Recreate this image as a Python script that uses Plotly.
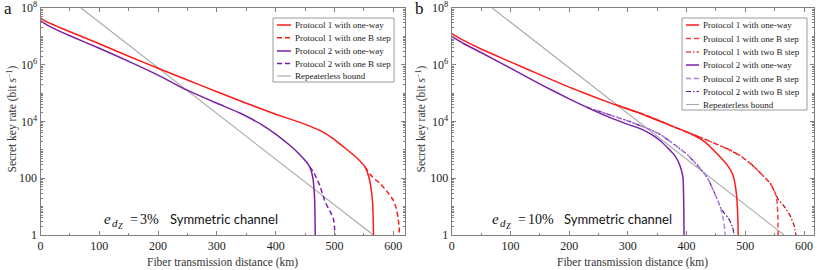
import plotly.graph_objects as go

# ---------------- data ----------------
# Panel a : e_dZ = 3 %
a_p1_oneway_x = [0, 10, 25, 50, 100, 150, 203, 250, 300, 339, 400, 440, 460, 480, 500, 520, 540, 552, 558, 562, 565, 566, 566.5]
a_p1_oneway_y = [4.4e7, 3.3e7, 2.4e7, 1.45e7, 5.5e6, 2.0e6, 7.1e5, 2.9e5, 1.12e5, 5.4e4, 1.8e4, 9.5e3, 6.6e3, 4.3e3, 2.3e3, 1.07e3, 480, 250, 120, 48, 12.6, 3.2, 0.8]
a_p1_oneB_x = [552, 560, 570, 577, 590, 600, 605, 608, 610, 610.5]
a_p1_oneB_y = [250, 141, 89, 68, 33, 17, 8.9, 4.3, 2.0, 0.8]
a_p2_oneway_x = [0, 10, 25, 50, 100, 150, 200, 242, 300, 339, 360, 380, 400, 424, 440, 452, 458, 463, 466, 467, 467.3]
a_p2_oneway_y = [3.5e7, 2.6e7, 1.8e7, 1.05e7, 3.8e6, 1.32e6, 4.3e5, 1.5e5, 4.4e4, 2.0e4, 1.2e4, 6.9e3, 3.6e3, 1.45e3, 720, 380, 250, 112, 25, 4.0, 0.8]
a_p2_oneB_x = [458, 465, 475, 484, 492, 498, 500, 501]
a_p2_oneB_y = [250, 158, 56, 15, 7.1, 4.0, 2.0, 0.8]

# Panel b : e_dZ = 10 %
b_p1_oneway_x = [0, 20, 50, 100, 150, 200, 266, 320, 370, 408, 430, 454, 470, 479, 484, 486, 487.5, 488]
b_p1_oneway_y = [1.26e7, 7.2e6, 3.6e6, 1.26e6, 4.5e5, 1.62e5, 4.8e4, 2.0e4, 7.6e3, 3.6e3, 2.0e3, 660, 280, 129, 40, 15, 3.2, 0.8]
b_p1_oneB_x = [280, 320, 350, 380, 414, 440, 470, 491, 510, 525, 542, 551, 554, 555.5, 556]
b_p1_oneB_y = [3.8e4, 2.0e4, 1.15e4, 6.3e3, 3.3e3, 2.0e3, 1.07e3, 630, 316, 158, 68, 30, 16, 4.0, 0.8]
b_p1_twoB_x = [280, 320, 350, 380, 414, 440, 470, 491, 510, 525, 542, 551, 556, 565, 576, 583, 587]
b_p1_twoB_y = [3.8e4, 2.0e4, 1.15e4, 6.3e3, 3.3e3, 2.0e3, 1.07e3, 630, 316, 158, 68, 30, 18, 11, 5.0, 2.2, 0.8]
b_p2_oneway_x = [0, 20, 50, 100, 152, 200, 266, 300, 321, 340, 355, 368, 380, 386, 391, 394, 395, 395.5, 395.7]
b_p2_oneway_y = [1.0e7, 5.6e6, 2.7e6, 7.6e5, 2.0e5, 6.3e4, 1.48e4, 7.9e3, 5.6e3, 3.5e3, 2.1e3, 1.17e3, 630, 380, 200, 100, 20, 3.2, 0.8]
b_p2_oneB_x = [230, 266, 300, 340, 357, 380, 402, 420, 436, 447, 454, 458, 462, 465, 466]
b_p2_oneB_y = [3.2e4, 1.8e4, 1.05e4, 5.0e3, 3.3e3, 1.5e3, 660, 263, 100, 32, 15, 8.9, 4.0, 1.6, 0.8]
b_p2_twoB_x = [230, 266, 300, 340, 357, 380, 402, 420, 436, 447, 454, 458, 465, 471, 478, 482]
b_p2_twoB_y = [3.2e4, 1.8e4, 1.05e4, 5.0e3, 3.3e3, 1.5e3, 660, 263, 100, 32, 15, 8.9, 5.6, 4.0, 2.0, 0.8]

# repeaterless bound (straight line in log scale)
bound_x = [69, 566]
bound_y = [1e8, 1]

x_ticks = [0, 100, 200, 300, 400, 500, 600]
y_ticks = [1, 100, 1e4, 1e6, 1e8]
y_ticktext = ["1", "100", "10<sup>4</sup>", "10<sup>6</sup>", "10<sup>8</sup>"]
y_minor = [m * 10 ** k for k in range(8) for m in range(2, 11)]

legend_a = ["Protocol 1 with one-way", "Protocol 1 with one B step", "Protocol 2 with one-way",
            "Protocol 2 with one B step", "Repeaterless bound"]
legend_b = ["Protocol 1 with one-way", "Protocol 1 with one B step", "Protocol 1 with two B step",
            "Protocol 2 with one-way", "Protocol 2 with one B step", "Protocol 2 with two B step",
            "Repeaterless bound"]

# ---------------- styles ----------------
RED = "#ff1a1a"
RED_D = "#ff3a3a"
RED_DD = "#c80000"
PUR = "#7a1fa8"
PUR_L = "#b183dc"
PUR_DD = "#55188f"
GRAY = "#a6a6a6"
DASH = "5px,3px"
DASHDOT = "5px,2px,1.5px,2px"
W = 1.5
SERIF = "Liberation Serif, Times New Roman, DejaVu Serif, serif"
SANS = "Lato, Open Sans, sans-serif"

W_FIG, H_FIG = 817, 270
TOP, BOT = 8, 235


def px(x):
    return x / W_FIG


def py(y):
    return (BOT - y) / (BOT - TOP)


fig = go.Figure()


def add(x, y, color, dash, width, xa, ya):
    fig.add_trace(go.Scatter(x=x, y=y, mode="lines", xaxis=xa, yaxis=ya, showlegend=False,
                             line=dict(color=color, dash=dash, width=width, shape="spline", smoothing=0.4),
                             hoverinfo="skip"))


# panel a
add(bound_x, bound_y, GRAY, "solid", 1.1, "x", "y")
add(a_p1_oneB_x, a_p1_oneB_y, RED, DASH, W, "x", "y")
add(a_p1_oneway_x, a_p1_oneway_y, RED, "solid", W, "x", "y")
add(a_p2_oneB_x, a_p2_oneB_y, PUR, DASH, W, "x", "y")
add(a_p2_oneway_x, a_p2_oneway_y, PUR, "solid", W, "x", "y")

# panel b
add(bound_x, bound_y, GRAY, "solid", 1.1, "x2", "y2")
add(b_p1_twoB_x, b_p1_twoB_y, RED_DD, DASHDOT, 1.2, "x2", "y2")
add(b_p1_oneB_x, b_p1_oneB_y, RED_D, DASH, W, "x2", "y2")
add(b_p1_oneway_x, b_p1_oneway_y, RED, "solid", W, "x2", "y2")
add(b_p2_twoB_x, b_p2_twoB_y, PUR_DD, DASHDOT, 1.2, "x2", "y2")
add(b_p2_oneB_x, b_p2_oneB_y, PUR_L, DASH, W, "x2", "y2")
add(b_p2_oneway_x, b_p2_oneway_y, PUR, "solid", W, "x2", "y2")

TICKFONT = dict(family=SERIF, size=12, color="#222")
xcommon = dict(tickmode="array", tickvals=x_ticks, ticks="inside", ticklen=4, tickcolor="#808080",
               showline=True, linecolor="#808080", linewidth=1, mirror="ticks", showgrid=False,
               zeroline=False, tickfont=TICKFONT, automargin=False,
               minor=dict(dtick=50, tick0=0, ticks="inside", ticklen=2.5, tickcolor="#808080"))
ycommon = dict(type="log", range=[0, 8], tickmode="array", tickvals=y_ticks, ticktext=y_ticktext,
               ticks="inside", ticklen=4, tickcolor="#808080", showline=True, linecolor="#808080",
               linewidth=1, mirror="ticks", showgrid=False, zeroline=False, tickfont=TICKFONT,
               automargin=False,
               minor=dict(tickmode="array", tickvals=y_minor, ticks="inside", ticklen=2, tickcolor="#808080"))

fig.update_layout(
    width=W_FIG, height=H_FIG, margin=dict(l=0, r=0, t=TOP, b=H_FIG - BOT, autoexpand=False),
    paper_bgcolor="white", plot_bgcolor="white", showlegend=False,
    xaxis=dict(domain=[px(40.5), px(405)], range=[0, 620], anchor="y", **xcommon),
    yaxis=dict(domain=[0, 1], anchor="x", **ycommon),
    xaxis2=dict(domain=[px(451.7), px(814)], range=[0, 617], anchor="y2", **xcommon),
    yaxis2=dict(domain=[0, 1], anchor="x2", **ycommon),
)

ann = []
shapes = []


def txt(x, y, t, family, size, color="#111", xanchor="left", **kw):
    ann.append(dict(x=px(x), y=py(y), xref="paper", yref="paper", showarrow=False, xanchor=xanchor,
                    yanchor="middle", text=t, font=dict(family=family, size=size, color=color), **kw))


# axis titles, panel labels
for cx, ytx, lab, lx in [((40.5 + 405) / 2, 12, "a", 2), ((451.7 + 814) / 2, 421, "b", 413)]:
    txt(cx, 262, "Fiber transmission distance (km)", SERIF, 11.5, "#333", xanchor="center")
    txt(ytx, (TOP + BOT) / 2 - 2, "Secret key rate (bit <i>s</i><sup>−1</sup>)", SERIF, 11.5, "#333",
        xanchor="center", textangle=-90)
    txt(lx, 8, lab, SERIF, 17)

# channel annotations
for ex, eqx, vx, sx, val in [(102, 128, 138, 168, "3%"), (490, 516, 526, 562, "10%")]:
    txt(ex, 219, "<i>e</i>", SERIF, 15)
    txt(ex + 8, 223, "<i>d</i>", SERIF, 11)
    txt(ex + 14, 226, "<i>Z</i>", SERIF, 8)
    txt(eqx, 219, "=", SERIF, 14)
    txt(vx, 219, val, SERIF, 14)
    txt(sx, 219, "Symmetric channel", SANS, 13)


def legend(box, rows, styles, labels, lx0, lx1):
    x0, x1, y0, y1 = box
    shapes.append(dict(type="rect", xref="paper", yref="paper", x0=px(x0), x1=px(x1), y0=py(y1), y1=py(y0),
                       line=dict(color="#9a9a9a", width=1), fillcolor="white", layer="above"))
    for r, (c, d, w), t in zip(rows, styles, labels):
        shapes.append(dict(type="line", xref="paper", yref="paper", x0=px(lx0), x1=px(lx1), y0=py(r), y1=py(r),
                           line=dict(color=c, dash=d, width=w), layer="above"))
        txt(lx1 + 2, r, t, SERIF, 9, "#222")


legend((273, 394, 18, 82), [25, 37.7, 51, 63.5, 76],
       [(RED, "solid", W), (RED, DASH, W), (PUR, "solid", W), (PUR, DASH, W), (GRAY, "solid", 1.1)],
       legend_a, 277, 291)
legend((682, 807, 18, 110), [25, 38.5, 52, 65, 78.5, 91.5, 104.5],
       [(RED, "solid", W), (RED_D, DASH, W), (RED_DD, DASHDOT, 1.2), (PUR, "solid", W),
        (PUR_L, DASH, W), (PUR_DD, DASHDOT, 1.2), (GRAY, "solid", 1.1)],
       legend_b, 686, 699)

fig.update_layout(annotations=ann, shapes=shapes)
fig.write_html("out.html", config={"displayModeBar": False},
               post_script="document.body.style.margin='0px';")
